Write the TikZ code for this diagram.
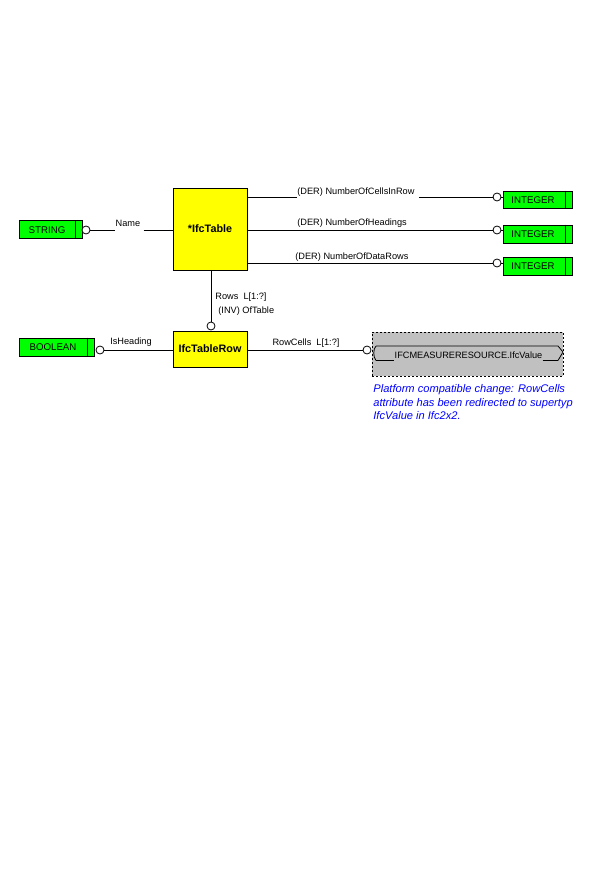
\documentclass[tikz,border=0pt]{standalone}
\usepackage{fontspec}
\setmainfont{Liberation Sans}
\definecolor{typegreen}{RGB}{0,255,0}
\definecolor{entyellow}{RGB}{255,255,0}
\definecolor{selgray}{RGB}{192,192,192}
\definecolor{notblue}{RGB}{0,0,255}
\begin{document}
\begin{tikzpicture}[x=1pt,y=-1pt,line width=0.8pt,
  entity/.style={draw, fill=entyellow, inner sep=0pt, font=\fontsize{10.8}{12}\selectfont\bfseries},
  typebox/.style={draw, fill=typegreen, inner sep=0pt, minimum height=18pt},
  typelbl/.style={inner sep=0pt, font=\fontsize{9.7}{11}\selectfont},
  lbl/.style={inner sep=0pt, font=\fontsize{9.2}{11}\selectfont},
  ring/.style={circle, draw, fill=white, minimum size=8pt, inner sep=0pt},
  conn/.style={draw, line width=0.8pt}]
\useasboundingbox[fill=white] (0,0) rectangle (600,888);

% entities
\node[entity, minimum width=74pt, minimum height=82pt] (tbl) at (210,229) {*IfcTable};
\node[entity, minimum width=74pt, minimum height=36pt] (row) at (210,349) {IfcTableRow};

% STRING
\node[typebox, minimum width=63pt] (str) at (50.5,229.5) {};
\draw ([xshift=-7pt]str.north east) -- ([xshift=-7pt]str.south east);
\node[typelbl] (strl) at (47,230) {STRING};
\node[ring] (c1) at (86,230) {};
\node[lbl] (nm) at (128,223) {Name};
\draw[conn] (c1.east) -- (c1.east -| nm.west);
\draw[conn] ([xshift=3pt]c1.east -| nm.east) -- (c1.east -| tbl.west);

% INTEGER boxes
\node[typebox, minimum width=69pt, minimum height=17pt] (int1) at (537.5,199.5) {};
\node[typebox, minimum width=69pt] (int2) at (537.5,234) {};
\node[typebox, minimum width=69pt] (int3) at (537.5,266) {};
\foreach \b in {int1,int2,int3}{
  \draw ([xshift=-7pt]\b.north east) -- ([xshift=-7pt]\b.south east);
}
\node[typelbl] (int1l) at (533,200) {INTEGER};
\node[typelbl] (int2l) at (533,234.5) {INTEGER};
\node[typelbl] (int3l) at (533,266.5) {INTEGER};
\node[ring] (r1) at (497,197) {};
\node[ring] (r2) at (497,230) {};
\node[ring] (r3) at (497,263) {};
\draw[conn] (r1.east) -- (r1.east -| int1.west);
\draw[conn] (r2.east) -- (r2.east -| int2.west);
\draw[conn] (r3.east) -- (r3.east -| int3.west);

\node[lbl, anchor=west] (d1) at (297,192) {(DER) NumberOfCellsInRow};
\node[lbl, anchor=west] (d2) at (297,223) {(DER) NumberOfHeadings};
\node[lbl, anchor=west] (d3) at (295,257) {(DER) NumberOfDataRows};
\draw[conn] (r1.west -| tbl.east) -- (r1.west -| d1.west);
\draw[conn] ([xshift=4pt]r1.west -| d1.east) -- (r1.west);
\draw[conn] (r2.west -| tbl.east) -- (r2.west);
\draw[conn] (r3.west -| tbl.east) -- (r3.west);

% Rows relation
\node[ring] (cr) at (211,326) {};
\draw[conn] (cr.north |- tbl.south) -- (cr.north);
\node[lbl, anchor=west] (rl1) at (215,297) {Rows\ \ L[1:?]};
\node[lbl, anchor=west] (rl2) at (218,311) {(INV) OfTable};

% BOOLEAN
\node[typebox, minimum width=75pt] (bool) at (56.5,347) {};
\draw ([xshift=-7pt]bool.north east) -- ([xshift=-7pt]bool.south east);
\node[typelbl] (booll) at (53,347.5) {BOOLEAN};
\node[ring] (cb) at (100,350) {};
\draw[conn] (cb.east) -- (cb.east -| row.west);
\node[lbl] (ish) at (131,342) {IsHeading};

% RowCells
\node[ring] (cv) at (367,350) {};
\draw[conn] (cv.west -| row.east) -- (cv.west);
\node[lbl] (rcl) at (306,343) {RowCells\ \ L[1:?]};

% select box
\node[draw, dashed, dash pattern=on 2pt off 2pt, fill=selgray, minimum width=191pt, minimum height=44pt, inner sep=0pt] (sel) at (467.5,354) {};
\draw (376,346) -- (558,346) -- (563,352) -- (558,360.5);
\draw (376,346) .. controls (373,349) and (373,357) .. (376,360.5);
\node[lbl] (selt) at (468.5,355.5) {IFCMEASURERESOURCE.IfcValue};
\draw (376,360.5) -- (selt.west |- 0,360.5);
\draw (selt.east |- 0,360.5) -- (558,360.5);

% note
\node[anchor=north west, align=left, inner sep=0pt, text=notblue,
  font=\fontsize{11.1}{13.2}\selectfont\itshape] (note) at (373,384.5)
  {Platform compatible change: RowCells\\attribute has been redirected to supertyp\\IfcValue in Ifc2x2.};
\end{tikzpicture}
\end{document}
